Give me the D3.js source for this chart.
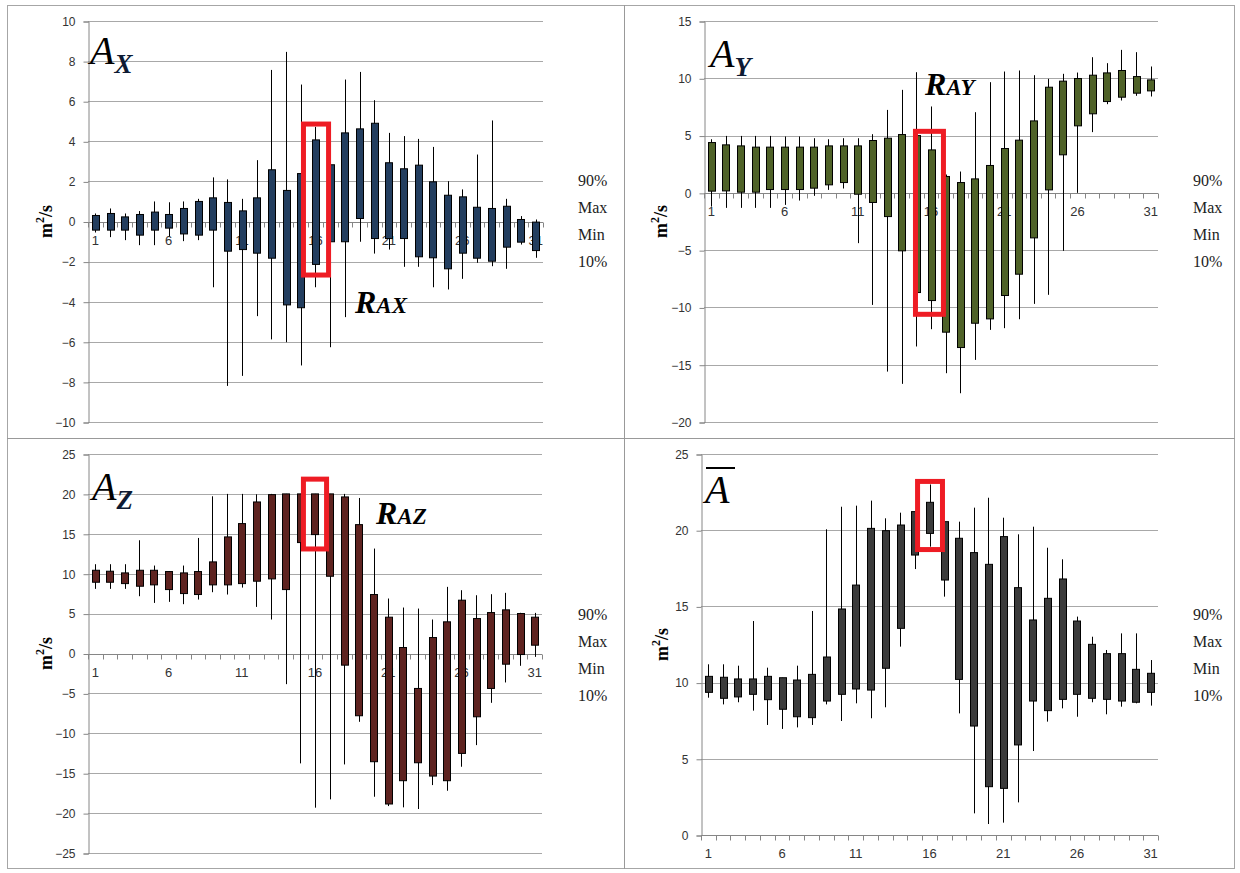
<!DOCTYPE html>
<html>
<head>
<meta charset="utf-8">
<script src="https://cdn.jsdelivr.net/npm/d3@7"></script>
<style>
  body { margin: 0; background: #fff; }
  svg text { font-family: "Liberation Sans", Arial, sans-serif; }
  .serif { font-family: "Liberation Serif", "Times New Roman", serif !important; }
</style>
</head>
<body>
<div id="chart"></div>
<script>
// categories (time steps) and the labels shown on the x axis
var days = [1,2,3,4,5,6,7,8,9,10,11,12,13,14,15,16,17,18,19,20,21,22,23,24,25,26,27,28,29,30,31];
var dayLabels = [1, 6, 11, 16, 21, 26, 31];
var legendItems = ["90%", "Max", "Min", "10%"];

// Ax : 90%, Max, Min, 10%
var axP90 = [0.3,0.4,0.23,0.35,0.47,0.35,0.65,1.0,1.18,0.95,0.53,1.18,2.58,1.55,2.39,4.07,2.83,4.42,4.62,4.9,2.93,2.63,2.81,1.98,1.31,1.23,0.71,0.65,0.76,0.1,-0.03];
var axMax = [0.4,0.65,0.4,0.52,1.0,0.96,1.0,1.13,2.2,2.1,1.13,3.06,7.56,8.46,6.83,4.72,3.5,7.08,7.46,6.05,4.42,4.26,4.12,3.72,2.01,1.6,3.34,5.04,1.13,0.27,0.1];
var axMin = [-0.55,-0.78,-0.93,-1.18,-1.18,-0.75,-0.98,-0.93,-3.28,-8.2,-7.7,-4.72,-5.88,-6.02,-7.18,-3.28,-6.27,-4.77,-1.01,-1.6,-1.4,-2.26,-2.26,-3.28,-3.39,-2.86,-2.06,-2.23,-2.36,-1.15,-1.81];
var axP10 = [-0.43,-0.43,-0.43,-0.68,-0.43,-0.33,-0.62,-0.68,-0.43,-1.48,-1.4,-1.58,-1.83,-4.16,-4.3,-2.14,-1.01,-1.01,0.15,-0.85,-0.85,-0.85,-1.76,-1.81,-2.36,-1.58,-1.83,-1.98,-1.28,-1.03,-1.45];

// Ay
var ayP90 = [4.39,4.19,4.1,3.99,3.99,3.99,3.99,3.99,4.1,4.1,4.1,4.57,4.77,5.09,5.0,3.75,1.43,0.9,1.22,2.39,3.87,4.6,6.28,9.22,9.75,9.98,10.27,10.47,10.68,10.15,9.86];
var ayMax = [4.68,4.97,4.97,4.97,4.97,4.92,4.92,4.77,4.68,4.77,4.77,5.12,7.24,8.99,10.53,7.54,1.6,1.86,7.04,9.66,10.59,10.68,10.27,9.95,10.39,10.5,11.84,11.32,12.48,12.28,11.03];
var ayMin = [-1.2,-1.31,-1.31,-1.31,-1.31,-1.05,-0.67,-0.26,0.26,0.38,-4.39,-9.78,-15.6,-16.67,-13.41,-11.9,-15.74,-17.49,-14.58,-11.96,-11.81,-11.03,-9.69,-8.9,-5.06,0.0,5.3,7.74,8.06,8.47,8.41];
var ayP10 = [0.15,0.17,0.06,0.06,0.29,0.29,0.29,0.41,0.7,0.9,-0.12,-0.84,-2.07,-5.06,-8.7,-9.4,-12.16,-13.5,-11.38,-11.0,-8.96,-7.1,-3.93,0.26,3.32,5.85,6.9,7.97,8.35,8.7,8.9];

// Az
var azP90 = [10.43,10.31,10.1,10.43,10.43,10.27,10.1,10.27,11.48,14.61,16.28,18.99,19.91,20,20,20,20,19.62,16.15,7.39,4.55,0.75,-4.38,2.0,3.97,6.68,4.38,5.13,5.47,5.01,4.55];
var azMax = [11.19,11.19,11.19,14.19,11.02,10.3,11.02,14.48,19.7,20,20,19.95,20,20,20,20,20,20,19.49,13.15,6.89,5.76,5.63,4.26,8.35,7.93,7.3,7.43,7.6,5.1,5.09];
var azMin = [8.1,8.1,8.1,7.18,6.34,6.47,6.18,6.76,7.68,7.39,8.26,5.84,4.26,-3.84,-13.77,-19.32,-18.28,-13.9,-8.56,-17.95,-19.12,-19.28,-19.49,-16.49,-17.2,-14.19,-11.48,-6.18,-3.63,-1.54,-0.42];
var azP10 = [8.93,8.93,8.76,8.43,8.6,8.01,7.51,7.39,8.6,8.6,8.76,9.06,9.35,8.01,13.9,14.9,9.68,-1.46,-7.8,-13.56,-18.86,-15.94,-13.69,-15.36,-15.94,-12.52,-7.93,-4.38,-1.34,-0.13,1.04];

// A (mean)
var aP90 = [10.41,10.35,10.24,10.24,10.41,10.32,10.17,10.54,11.68,14.83,16.4,20.12,19.97,20.34,21.22,21.83,20.56,19.47,18.53,17.76,19.58,16.23,14.11,15.53,16.8,14.04,12.51,11.9,11.9,10.87,10.61];
var aMax = [11.2,11.2,11.11,14.04,10.98,10.32,11.11,14.7,20.06,21.54,21.61,21.94,20.78,21.15,21.22,23.0,20.6,20.56,21.48,22.13,20.82,19.73,20.23,18.85,18.09,14.33,13.01,12.14,13.23,13.23,11.48];
var aMin = [9.01,8.57,8.71,8.16,7.22,6.96,7.06,7.22,8.57,7.48,8.64,7.66,8.38,12.36,17.45,18.92,15.64,7.98,1.42,0.72,0.81,2.14,5.51,7.44,8.31,7.76,8.71,7.92,8.42,8.64,8.49];
var aP10 = [9.36,8.97,9.06,9.23,8.88,8.25,7.76,7.7,8.79,9.23,9.58,9.51,10.94,13.56,18.37,19.79,16.73,10.21,7.15,3.17,3.06,5.91,8.79,8.16,8.9,9.23,8.97,8.9,8.79,8.71,9.36];

var svg = d3.select("#chart").append("svg")
  .attr("width", 1240)
  .attr("height", 873);

// outer frame and panel dividers
svg.append("rect")
  .attr("x", 7.5).attr("y", 5.5).attr("width", 1227).attr("height", 863)
  .attr("fill", "none").attr("stroke", "#a6a6a6");
svg.append("line").attr("x1", 624.5).attr("x2", 624.5).attr("y1", 5).attr("y2", 869)
  .attr("stroke", "#999");
svg.append("line").attr("x1", 7).attr("x2", 1235).attr("y1", 438.5).attr("y2", 438.5)
  .attr("stroke", "#999");

var panels = [
  { p90: axP90, max: axMax, min: axMin, p10: axP10, fill: "#233e5f",
    left: 88, right: 543, top: 21, bottom: 422, domain: [-10, 10], step: 2,
    hi: [4.86, -2.67], hiL: -0.82, hiR: 0.89, titleX: 46, legX: 578, legY: 180,
    sym: "X", symX: 90, symY: 64, rLabel: "AX", rX: 355, rY: 313 },
  { p90: ayP90, max: ayMax, min: ayMin, p10: ayP10, fill: "#4f6228",
    left: 704, right: 1158, top: 21, bottom: 422, domain: [-20, 15], step: 5,
    hi: [5.37, -10.6], hiL: -1.06, hiR: 0.85, titleX: 661, legX: 1193, legY: 180,
    sym: "Y", symX: 710, symY: 67, rLabel: "AY", rX: 925, rY: 95 },
  { p90: azP90, max: azMax, min: azMin, p10: azP10, fill: "#5e2320",
    left: 88, right: 542, top: 454, bottom: 853, domain: [-25, 25], step: 5,
    hi: [21.85, 13.1], hiL: -0.79, hiR: 0.79, titleX: 46, legX: 578, legY: 614,
    sym: "Z", symX: 92, symY: 500, rLabel: "AZ", rX: 376, rY: 524 },
  { p90: aP90, max: aMax, min: aMin, p10: aP10, fill: "#3b3b3b",
    left: 701, right: 1158, top: 454, bottom: 835, domain: [0, 25], step: 5,
    hi: [23.2, 18.73], hiL: -0.81, hiR: 0.88, titleX: 662, legX: 1193, legY: 614,
    sym: null, symX: 705, symY: 503, rLabel: null }
];

panels.forEach(function(p) {
  var g = svg.append("g");

  var x = d3.scaleBand().domain(days).range([p.left, p.right]).paddingInner(0).paddingOuter(0);
  var y = d3.scaleLinear().domain(p.domain).range([p.bottom, p.top]);
  var bw = x.bandwidth();
  var yTicks = d3.range(p.domain[0], p.domain[1] + p.step / 2, p.step);

  // gridlines
  g.selectAll(".grid").data(yTicks).enter().append("line")
    .attr("x1", p.left).attr("x2", p.right)
    .attr("y1", d => Math.round(y(d)) + 0.5).attr("y2", d => Math.round(y(d)) + 0.5)
    .attr("stroke", "#a8a8a8");

  // y axis
  var leftAxis = d3.axisLeft(y).tickValues(yTicks).tickSize(5).tickPadding(8);
  var ya = g.append("g")
    .attr("transform", `translate(${p.left + 0.5}, 0.5)`)
    .call(leftAxis);
  ya.select(".domain").attr("stroke", "#868686");
  ya.selectAll(".tick line").attr("stroke", "#868686");
  ya.selectAll("text").attr("font-size", 12).attr("fill", "#333")
    .attr("font-family", "Liberation Sans, Arial, sans-serif");

  // x axis at zero
  var y0 = Math.round(y(0)) + 0.5;
  g.append("line").attr("x1", p.left).attr("x2", p.right)
    .attr("y1", y0).attr("y2", y0).attr("stroke", "#868686");
  g.selectAll(".xtick").data(d3.range(0, days.length + 1)).enter().append("line")
    .attr("x1", d => Math.round(p.left + d * bw) + 0.5)
    .attr("x2", d => Math.round(p.left + d * bw) + 0.5)
    .attr("y1", y0).attr("y2", y0 + 5)
    .attr("stroke", "#868686");
  g.selectAll(".xlab").data(dayLabels).enter().append("text")
    .attr("x", d => x(d) + bw / 2)
    .attr("y", y0 + 22)
    .attr("text-anchor", "middle")
    .attr("font-size", 13).attr("fill", "#333")
    .text(d => d);

  // whiskers (Max to Min)
  g.selectAll(".whisk").data(days).enter().append("line")
    .attr("x1", d => Math.round(x(d) + bw / 2) + 0.5)
    .attr("x2", d => Math.round(x(d) + bw / 2) + 0.5)
    .attr("y1", (d, i) => y(p.max[i]))
    .attr("y2", (d, i) => y(p.min[i]))
    .attr("stroke", "#000").attr("stroke-width", 1);

  // boxes (90% to 10%)
  var boxW = 7;
  g.selectAll(".box").data(days).enter().append("rect")
    .attr("x", d => Math.round(x(d) + bw / 2 - boxW / 2) + 0.5)
    .attr("width", boxW)
    .attr("y", (d, i) => y(Math.max(p.p90[i], p.p10[i])))
    .attr("height", (d, i) => Math.abs(y(p.p10[i]) - y(p.p90[i])))
    .attr("fill", p.fill).attr("stroke", "#000").attr("stroke-width", 1);

  // red highlight around day 16
  var cx = x(16) + bw / 2;
  g.append("rect")
    .attr("x", cx + p.hiL * bw)
    .attr("width", (p.hiR - p.hiL) * bw)
    .attr("y", y(p.hi[0]))
    .attr("height", y(p.hi[1]) - y(p.hi[0]))
    .attr("fill", "none").attr("stroke", "#ee1c24").attr("stroke-width", 5);

  // y title
  var midY = (p.top + p.bottom) / 2;
  g.append("text")
    .attr("class", "serif")
    .attr("transform", `translate(${p.titleX}, ${midY}) rotate(-90)`)
    .attr("text-anchor", "middle")
    .attr("dominant-baseline", "central")
    .attr("font-size", 18).attr("font-weight", "bold")
    .html('m<tspan dy="-6" font-size="12">2</tspan><tspan dy="6">/s</tspan>');

  // legend
  g.selectAll(".leg").data(legendItems).enter().append("text")
    .attr("class", "serif")
    .attr("x", p.legX)
    .attr("y", (d, i) => p.legY + 6 + i * 27)
    .attr("font-size", 16).attr("fill", "#222")
    .text(d => d);

  // panel symbol
  var t = g.append("text").attr("class", "serif")
    .attr("x", p.symX).attr("y", p.symY)
    .attr("font-style", "italic").attr("font-size", 40).attr("fill", "#000");
  t.append("tspan").text("A");
  if (p.sym) {
    t.append("tspan").attr("dy", 9).attr("font-size", 27).attr("font-weight", "bold")
      .attr("fill", "#0d1a33").text(p.sym);
  } else {
    g.append("line").attr("x1", p.symX + 1).attr("x2", p.symX + 30)
      .attr("y1", p.symY - 35).attr("y2", p.symY - 35)
      .attr("stroke", "#000").attr("stroke-width", 2);
  }

  // R label
  if (p.rLabel) {
    var r = g.append("text").attr("class", "serif")
      .attr("x", p.rX).attr("y", p.rY)
      .attr("font-style", "italic").attr("font-weight", "bold")
      .attr("font-size", 32).attr("fill", "#000");
    r.append("tspan").text("R");
    r.append("tspan").attr("font-size", 23).text(p.rLabel);
  }
});
</script>
</body>
</html>
